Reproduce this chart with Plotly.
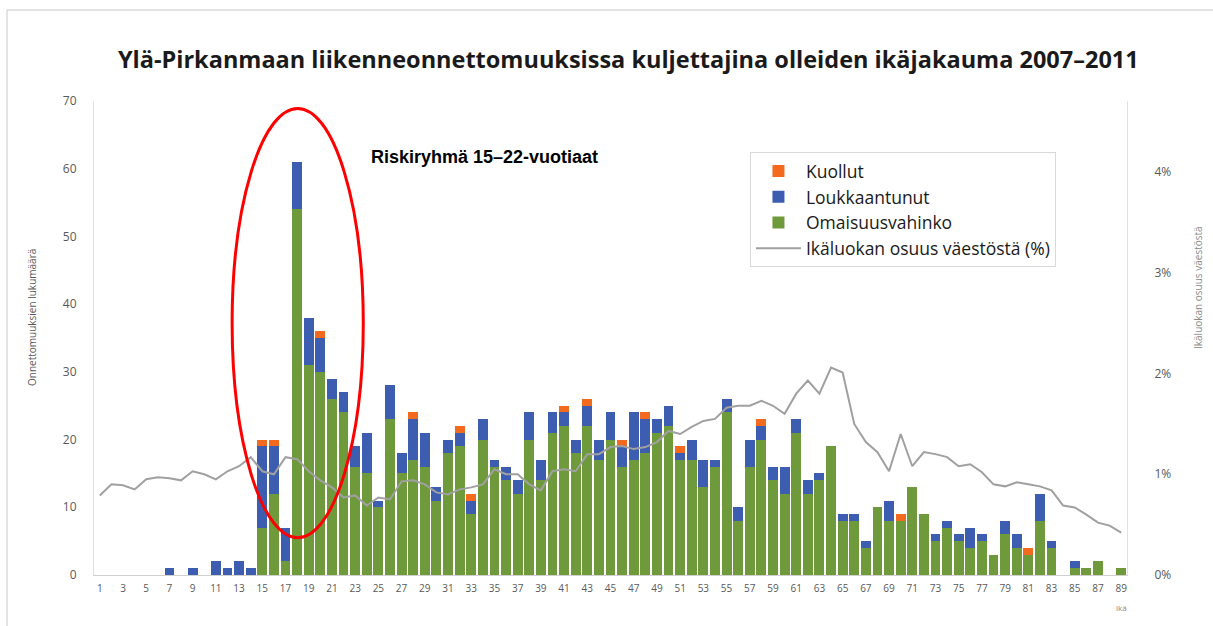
import plotly.graph_objects as go

ages = list(range(1, 90))

# Omaisuusvahinko (property damage)
green = [0,0,0,0,0,0,0,0,0,0, 0,0,0,0,7,12,2,54,31,30,
         26,24,16,15,10,23,15,17,16,11, 18,19,9,20,16,14,12,20,14,21,
         22,18,22,17,20,16,17,18,21,22, 17,17,13,16,24,8,16,20,14,12,
         21,12,14,19,8,8,4,10,8,8, 13,9,5,7,5,4,5,3,6,4,
         3,8,4,0,1,1,2,0,1]
# Loukkaantunut (injured)
blue = [0,0,0,0,0,0,1,0,1,0, 2,1,2,1,12,7,5,7,7,5,
        3,3,3,6,1,5,3,6,5,2, 2,2,2,3,1,2,2,4,3,3,
        2,2,3,3,4,3,7,5,2,3, 1,3,4,1,2,2,4,2,2,4,
        2,2,1,0,1,1,1,0,3,0, 0,0,1,1,1,3,1,0,2,2,
        0,4,1,0,1,0,0,0,0]
# Kuollut (killed)
orange = [0,0,0,0,0,0,0,0,0,0, 0,0,0,0,1,1,0,0,0,1,
          0,0,0,0,0,0,0,1,0,0, 0,1,1,0,0,0,0,0,0,0,
          1,0,1,0,0,1,0,1,0,0, 1,0,0,0,0,0,0,1,0,0,
          0,0,0,0,0,0,0,0,0,1, 0,0,0,0,0,0,0,0,0,0,
          1,0,0,0,0,0,0,0,0]
# Ikäluokan osuus väestöstä (%)
share = [0.79,0.90,0.89,0.85,0.95,0.97,0.96,0.94,1.03,1.00,
         0.95,1.03,1.08,1.17,1.03,1.00,1.17,1.15,1.03,0.94,
         0.87,0.77,0.79,0.69,0.77,0.75,0.93,0.94,0.90,0.82,
         0.80,0.85,0.87,0.90,1.05,1.00,1.00,0.90,0.84,1.03,
         1.05,1.03,1.20,1.20,1.27,1.28,1.25,1.27,1.32,1.43,
         1.40,1.47,1.53,1.55,1.66,1.68,1.68,1.73,1.68,1.60,
         1.80,1.93,1.80,2.06,2.01,1.50,1.32,1.22,1.03,1.40,
         1.08,1.22,1.20,1.17,1.08,1.10,1.02,0.90,0.88,0.92,
         0.90,0.88,0.84,0.69,0.67,0.60,0.52,0.49,0.42]

odd_ticks = [a for a in ages if a % 2 == 1]
tick_text = [str(a) for a in odd_ticks]
pct_vals = [0, 1, 2, 3, 4]
pct_text = ["0%", "1%", "2%", "3%", "4%"]

C_GREEN = "#6E9A3C"
C_BLUE = "#3D5DB0"
C_ORANGE = "#F36A1E"
C_LINE = "#A0A0A0"

fig = go.Figure()
fig.add_trace(go.Bar(x=ages, y=green, name="Omaisuusvahinko", marker_color=C_GREEN,
                     marker_line_width=0, legendrank=3))
fig.add_trace(go.Bar(x=ages, y=blue, name="Loukkaantunut", marker_color=C_BLUE,
                     marker_line_width=0, legendrank=2))
fig.add_trace(go.Bar(x=ages, y=orange, name="Kuollut", marker_color=C_ORANGE,
                     marker_line_width=0, legendrank=1))
fig.add_trace(go.Scatter(x=ages, y=share, name="Ikäluokan osuus väestöstä (%)", mode="lines",
                         line=dict(color=C_LINE, width=2), yaxis="y2", legendrank=4))

tick_font = dict(family="Open Sans, Arial", size=12, color="#595959")

fig.update_layout(
    width=1213, height=626,
    margin=dict(l=94, r=86, t=101, b=51),
    paper_bgcolor="white", plot_bgcolor="white",
    barmode="stack", bargap=0.15,
    showlegend=True,
    title=dict(text="<b>Ylä-Pirkanmaan liikenneonnettomuuksissa kuljettajina olleiden ikäjakauma 2007–2011</b>",
               x=0.518, xanchor="center", y=1 - 60 / 626, yanchor="middle",
               font=dict(family="Open Sans, Arial", size=23.5, color="#1a1a1a")),
    xaxis=dict(range=[0.5, 89.5], tickmode="array", tickvals=odd_ticks, ticktext=tick_text,
               tickfont=dict(family="Open Sans, Arial", size=10, color="#595959"),
               showgrid=False, zeroline=False, showline=True, linecolor="#D0D0D0",
               linewidth=1, ticks="", ticklabelstandoff=4),
    yaxis=dict(range=[0, 70], dtick=10, showgrid=False, zeroline=False, showline=True,
               linecolor="#E0E0E0", tickfont=tick_font, ticks="", ticklabelstandoff=14),
    yaxis2=dict(range=[0, 4.706], tickmode="array", tickvals=pct_vals, ticktext=pct_text,
                overlaying="y", side="right", showgrid=False, zeroline=False,
                showline=True, linecolor="#E0E0E0", tickfont=tick_font, ticks="",
                ticklabelstandoff=24),
    legend=dict(x=0.635, y=0.892, xanchor="left", yanchor="top", traceorder="normal",
                bgcolor="white", bordercolor="#D9D9D9", borderwidth=1,
                font=dict(family="Open Sans, Arial", size=17.5, color="#1a1a1a"),
                tracegroupgap=0, itemwidth=45),
)

# Red ellipse highlighting risk group
fig.add_shape(type="circle", xref="x", yref="y", x0=12.4, x1=23.7, y0=5.5, y1=68.9,
              line=dict(color="#FF0000", width=3))
fig.add_annotation(text="<b>Riskiryhmä 15–22-vuotiaat</b>", x=24.2, y=61.7, xref="x", yref="y",
                   xanchor="left", yanchor="middle", showarrow=False,
                   font=dict(family="Liberation Sans, Arial", size=18, color="#000000"))

# Axis titles
fig.add_annotation(text="Onnettomuuksien lukumäärä", xref="paper", yref="paper",
                   x=(32 - 94) / 1033, y=(575 - 318) / 474, textangle=-90, showarrow=False,
                   xanchor="center", yanchor="middle",
                   font=dict(family="Open Sans, Arial", size=10, color="#595959"))
fig.add_annotation(text="Ikäluokan osuus väestöstä", xref="paper", yref="paper",
                   x=(1198 - 94) / 1033, y=(575 - 288) / 474, textangle=-90, showarrow=False,
                   xanchor="center", yanchor="middle",
                   font=dict(family="Open Sans, Arial", size=10, color="#8a8a8a"))
fig.add_annotation(text="ikä", xref="paper", yref="paper",
                   x=(1121 - 94) / 1033, y=(575 - 607) / 474, showarrow=False,
                   xanchor="center", yanchor="middle",
                   font=dict(family="Open Sans, Arial", size=8, color="#8a8a8a"))

# Outer frame lines
fig.add_shape(type="line", xref="paper", yref="paper",
              x0=(7 - 94) / 1033, x1=(1213 - 94) / 1033, y0=(575 - 10) / 474, y1=(575 - 10) / 474,
              line=dict(color="#C8C8C8", width=1))
fig.add_shape(type="line", xref="paper", yref="paper",
              x0=(7 - 94) / 1033, x1=(7 - 94) / 1033, y0=(575 - 10) / 474, y1=(575 - 626) / 474,
              line=dict(color="#C8C8C8", width=1))

fig.write_html("out.html", config={"displayModeBar": False},
               post_script="document.body.style.margin='0px';")
